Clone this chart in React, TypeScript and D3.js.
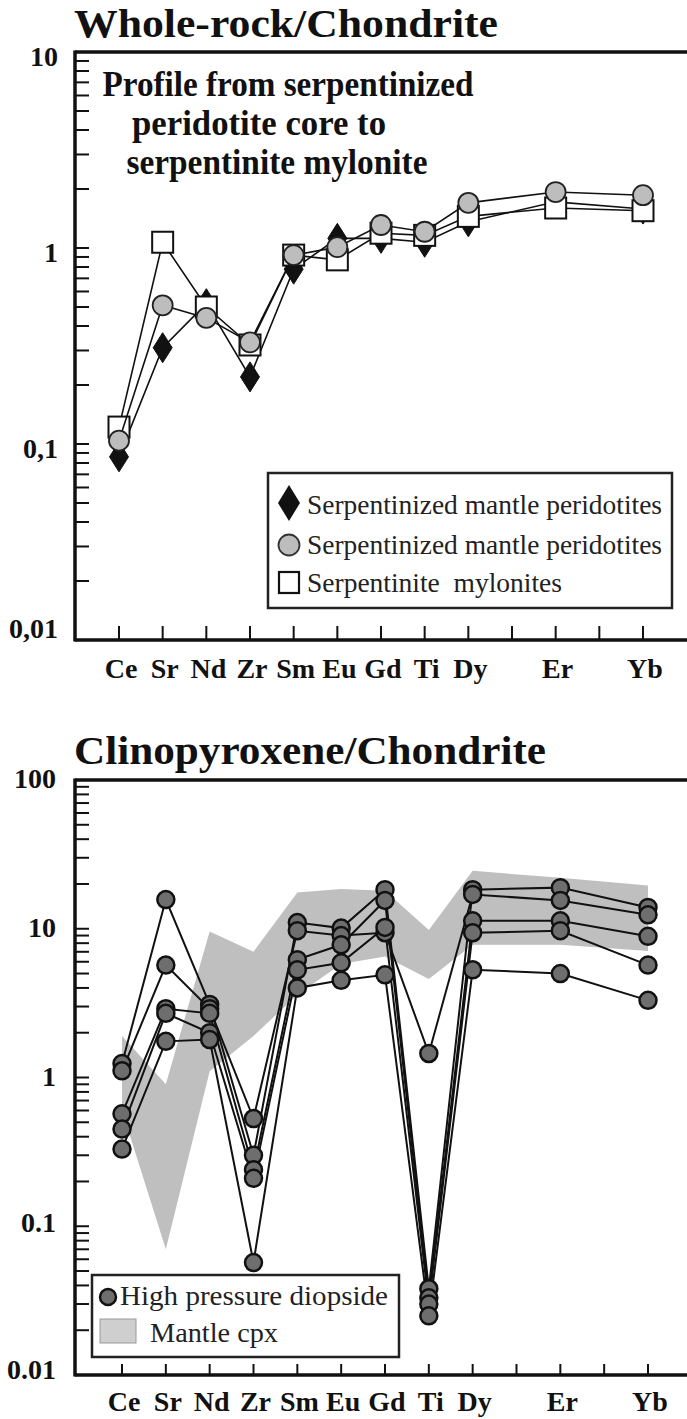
import React from 'react';
import * as d3 from 'd3';

// ---------- DATA ----------
const axisElements = ['Ce', 'Sr', 'Nd', 'Zr', 'Sm', 'Eu', 'Gd', 'Ti', 'Dy', 'Ho', 'Er', 'Tm', 'Yb'];
const plotElements = ['Ce', 'Sr', 'Nd', 'Zr', 'Sm', 'Eu', 'Gd', 'Ti', 'Dy', 'Er', 'Yb'];

// Whole-rock / chondrite
const wrDiamond = [0.086, 0.31, 0.52, 0.22, 0.78, 1.12, 1.12, 1.07, 1.36, 1.72, 1.58];
const wrCircle = [0.104, 0.51, 0.44, 0.33, 0.92, 1.01, 1.31, 1.21, 1.7, 1.93, 1.86];
const wrSquare = [0.122, 1.07, 0.5, 0.32, 0.92, 0.87, 1.19, 1.16, 1.45, 1.6, 1.55];
const wrTickValues = [10, 1, 0.1, 0.01];
const wrTickLabels = ['10', '1', '0,1', '0,01'];
const wrLegend = ['Serpentinized mantle peridotites', 'Serpentinized mantle peridotites', 'Serpentinite  mylonites'];
const wrNote = ['Profile from serpentinized', 'peridotite core to', 'serpentinite mylonite'];

// Clinopyroxene / chondrite (high pressure diopside)
const cpx1 = [1.24, 15.7, 3.1, 0.3, 11.0, 10.1, 18.3, 0.038, 18.3, 18.9, 13.9];
const cpx2 = [1.11, 5.7, 2.9, 0.53, 9.7, 9.0, 9.4, 1.45, 17.0, 15.5, 12.4];
const cpx3 = [0.57, 2.9, 2.7, 0.24, 6.2, 7.8, 15.5, 0.033, 11.3, 11.3, 8.9];
const cpx4 = [0.45, 2.7, 2.0, 0.21, 5.3, 5.9, 10.2, 0.03, 9.4, 9.7, 5.7];
const cpx5 = [0.33, 1.75, 1.8, 0.057, 4.0, 4.5, 4.9, 0.025, 5.3, 5.0, 3.3];
// Mantle cpx field
const bandUpper = [1.9, 0.9, 9.6, 7.0, 17.5, 18.5, 18.0, 9.8, 24.5, 22.0, 19.5];
const bandLower = [0.6, 0.07, 1.1, 1.9, 3.6, 5.8, 6.5, 4.6, 7.8, 7.8, 7.1];
const cpxTickValues = [100, 10, 1, 0.1, 0.01];
const cpxTickLabels = ['100', '10', '1', '0.1', '0.01'];
const cpxLegend = ['High pressure diopside', 'Mantle cpx'];

// ---------- STYLE ----------
const SERIF = 'Liberation Serif';

type Pt = { el: string; v: number };
const toPts = (vals: number[]): Pt[] => plotElements.map((el, i) => ({ el, v: vals[i] }));

function LogFrame({ x, y, left, top, bottom, tickValues, tickLabels, labelX, labelDy, xLabelY, xTickLen }: any) {
  const [d0, d1] = y.domain();
  const minor = y.ticks();
  return (
    <g>
      <line x1={left} x2={700} y1={top} y2={top} stroke="#111" strokeWidth={3.5} />
      <line x1={left} x2={700} y1={bottom} y2={bottom} stroke="#111" strokeWidth={3.5} />
      <line x1={left} x2={left} y1={top - 1.5} y2={bottom + 1.5} stroke="#111" strokeWidth={3.5} />
      {minor.filter((t: number) => t > Math.min(d0, d1) * 1.001 && t < Math.max(d0, d1) * 0.999).map((t: number, i: number) => (
        <line key={i} x1={left} x2={left + 14} y1={y(t)} y2={y(t)} stroke="#111" strokeWidth={2} />
      ))}
      {tickValues.map((t: number, i: number) => (
        <text key={i} x={labelX} y={y(t) + labelDy[i]} textAnchor="end" fontFamily={SERIF} fontWeight="bold" fontSize={28} fill="#111">
          {tickLabels[i]}
        </text>
      ))}
      {axisElements.map((el) => (
        <line key={el} x1={x(el)} x2={x(el)} y1={bottom} y2={bottom - xTickLen} stroke="#111" strokeWidth={2} />
      ))}
      {plotElements.map((el) => (
        <text key={el} x={x(el) + 2} y={xLabelY} textAnchor="middle" fontFamily={SERIF} fontWeight="bold" fontSize={28} fill="#111">
          {el}
        </text>
      ))}
    </g>
  );
}

const diamondPath = 'M0,-15L9.5,0L0,15L-9.5,0Z';

export default function App() {
  // ---- top chart ----
  const tTop = 52, tBottom = 640, tLeft = 75;
  const xT = d3.scalePoint<string>().domain(axisElements).range([119, 643]);
  const yT = d3.scaleLog().domain([0.01, 10]).range([tBottom, tTop]);
  const lineT = d3.line<Pt>().x((d) => xT(d.el)!).y((d) => yT(d.v));

  // ---- bottom chart ----
  const bTop = 780, bBottom = 1375, bLeft = 75;
  const xB = d3.scalePoint<string>().domain(axisElements).range([122, 648]);
  const yB = d3.scaleLog().domain([0.01, 100]).range([bBottom, bTop]);
  const lineB = d3.line<Pt>().x((d) => xB(d.el)!).y((d) => yB(d.v));
  const bandData = plotElements.map((el, i) => ({ el, hi: bandUpper[i], lo: bandLower[i] }));
  const area = d3.area<any>().x((d) => xB(d.el)!).y0((d) => yB(d.lo)).y1((d) => yB(d.hi));
  const cpxSeries = [cpx1, cpx2, cpx3, cpx4, cpx5];

  return (
    <svg width={687} height={1419} style={{ position: 'absolute', left: 0, top: 0, background: '#fff' }}>
      <rect x={0} y={0} width={687} height={1419} fill="#fff" />

      {/* ============ TOP ============ */}
      <text x={74} y={37} fontFamily={SERIF} fontWeight="bold" fontSize={40} fill="#111" textLength={424} lengthAdjust="spacingAndGlyphs">
        Whole-rock/Chondrite
      </text>
      <LogFrame x={xT} y={yT} left={tLeft} top={tTop} bottom={tBottom} tickValues={wrTickValues} tickLabels={wrTickLabels}
        labelX={58} labelDy={[14, 14, 14, -2]} xLabelY={678} xTickLen={14} />

      {/* note */}
      {wrNote.map((s, i) => {
        const lens = [371, 254, 301];
        const cx = [288, 259, 277];
        return (
          <text key={i} x={cx[i]} y={96 + i * 39} textAnchor="middle" fontFamily={SERIF} fontWeight="bold" fontSize={35} fill="#111"
            textLength={lens[i]} lengthAdjust="spacingAndGlyphs">{s}</text>
        );
      })}

      {/* diamonds series */}
      <path d={lineT(toPts(wrDiamond))!} fill="none" stroke="#111" strokeWidth={1.6} />
      {toPts(wrDiamond).map((d, i) => (
        <path key={i} d={diamondPath} transform={`translate(${xT(d.el)},${yT(d.v)})`} fill="#111" stroke="#111" strokeWidth={1} />
      ))}
      {/* squares series */}
      <path d={lineT(toPts(wrSquare))!} fill="none" stroke="#111" strokeWidth={1.6} />
      {toPts(wrSquare).map((d, i) => (
        <rect key={i} x={xT(d.el)! - 10.5} y={yT(d.v) - 10.5} width={21} height={21} fill="#fff" stroke="#111" strokeWidth={2} />
      ))}
      {/* circles series */}
      <path d={lineT(toPts(wrCircle))!} fill="none" stroke="#111" strokeWidth={1.6} />
      {toPts(wrCircle).map((d, i) => (
        <circle key={i} cx={xT(d.el)} cy={yT(d.v)} r={10} fill="#bdbdbd" stroke="#222" strokeWidth={1.8} />
      ))}

      {/* legend */}
      <rect x={268} y={473} width={404} height={135} fill="#fff" stroke="#222" strokeWidth={2.5} />
      <path d={'M0,-18L11,0L0,18L-11,0Z'} transform="translate(289,503)" fill="#111" />
      <circle cx={289} cy={545} r={10.5} fill="#bdbdbd" stroke="#333" strokeWidth={1.8} />
      <rect x={279} y={572} width={20} height={21} fill="#fff" stroke="#111" strokeWidth={2.2} />
      {wrLegend.map((s, i) => (
        <text key={i} x={307} y={[514, 554, 592][i]} fontFamily={SERIF} fontSize={27} fill="#222" xmlSpace="preserve"
          textLength={i < 2 ? 355 : 255} lengthAdjust="spacingAndGlyphs">{s}</text>
      ))}

      {/* ============ BOTTOM ============ */}
      <text x={74} y={764} fontFamily={SERIF} fontWeight="bold" fontSize={40} fill="#111" textLength={472} lengthAdjust="spacingAndGlyphs">
        Clinopyroxene/Chondrite
      </text>
      <path d={area(bandData)!} fill="#bfbfbf" stroke="none" />
      <LogFrame x={xB} y={yB} left={bLeft} top={bTop} bottom={bBottom} tickValues={cpxTickValues} tickLabels={cpxTickLabels}
        labelX={56} labelDy={[8, 8, 8, 6, 4]} xLabelY={1411} xTickLen={11} />

      {cpxSeries.map((s, k) => (
        <path key={k} d={lineB(toPts(s))!} fill="none" stroke="#111" strokeWidth={2} />
      ))}
      {cpxSeries.map((s, k) => (
        <g key={k}>
          {toPts(s).map((d, i) => (
            <circle key={i} cx={xB(d.el)} cy={yB(d.v)} r={8.5} fill="#6e6e6e" stroke="#111" strokeWidth={2.5} />
          ))}
        </g>
      ))}

      {/* legend */}
      <rect x={92} y={1275} width={307} height={82} fill="#fff" stroke="#222" strokeWidth={2.5} />
      <circle cx={108} cy={1297} r={8} fill="#6e6e6e" stroke="#111" strokeWidth={2.5} />
      <rect x={100} y={1319} width={36} height={24} fill="#cfcfcf" stroke="#999" strokeWidth={1} />
      <text x={120} y={1305} fontFamily={SERIF} fontSize={27} fill="#222" textLength={268} lengthAdjust="spacingAndGlyphs">{cpxLegend[0]}</text>
      <text x={150} y={1342} fontFamily={SERIF} fontSize={27} fill="#222" textLength={128} lengthAdjust="spacingAndGlyphs">{cpxLegend[1]}</text>
    </svg>
  );
}
